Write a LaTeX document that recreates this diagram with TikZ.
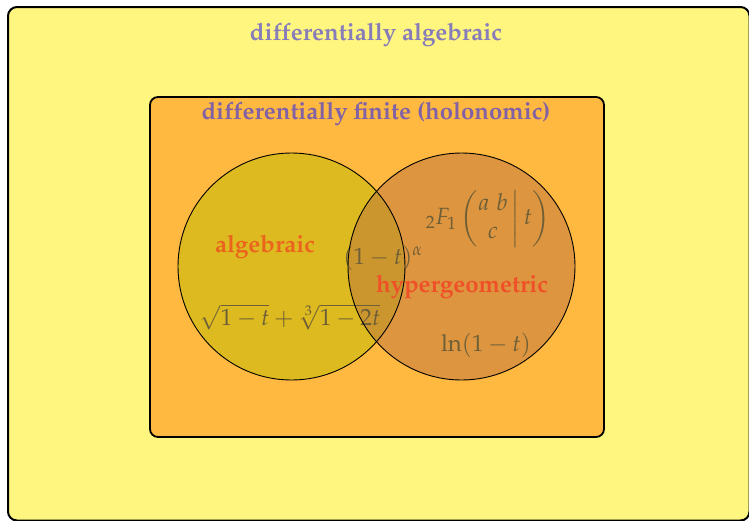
\documentclass[tikz,border=0pt]{standalone}
\usepackage[T1]{fontenc}
\usepackage{mathpazo}
\usepackage{amsmath}
\definecolor{outerfill}{RGB}{255,246,128}
\definecolor{innerfill}{RGB}{255,184,64}
\definecolor{leftc}{RGB}{189,188,0}
\definecolor{rightc}{RGB}{189,116,64}
\definecolor{titleA}{RGB}{135,125,185}
\definecolor{titleB}{RGB}{130,98,165}
\definecolor{algc}{RGB}{235,100,30}
\definecolor{hypc}{RGB}{240,80,40}
\definecolor{mathc}{RGB}{110,95,55}
\tikzset{
  box/.style={draw=black, line width=2pt, rounded corners=9pt},
  title/.style={font=\fontsize{24}{29}\selectfont\bfseries, inner sep=0pt},
  lab/.style={font=\fontsize{24}{29}\selectfont\bfseries, inner sep=0pt},
  formula/.style={font=\fontsize{23.5}{28}\selectfont, text=mathc, inner sep=0pt},
}
\begin{document}
\begin{tikzpicture}[x=1pt,y=-1pt]
\useasboundingbox (0,0) rectangle (749,520);
\draw[box, fill=outerfill] (8,7) rectangle (749.5,520.5);
\draw[box, fill=innerfill, line width=1.8pt, rounded corners=8pt] (150,97) rectangle (604,437);
\node[title, text=titleA] (tA) at (376,35) {differentially algebraic};
\node[title, text=titleB] (tB) at (376,114) {differentially finite (holonomic)};
\fill[leftc, opacity=0.5] (291.5,266.5) circle (113.5);
\fill[rightc, opacity=0.5] (461.5,266.5) circle (113.5);
\node[formula] (f1) at (383,258) {$(1-t)^{\alpha}$};
\node[formula] (f2) at (488,219) {${}_2F_1\left(\begin{matrix}a\;b\\ c\end{matrix}\,\middle|\,t\right)$};
\node[formula] (f3) at (290,317) {$\sqrt{1-t}+\sqrt[3]{1-2t}$};
\node[formula] (f4) at (486,345) {$\ln(1-t)$};
\node[lab, text=algc] (alg) at (265,247) {algebraic};
\node[lab, text=hypc] (hyp) at (462,287) {hypergeometric};
\draw[line width=0.9pt] (291.5,266.5) circle (113.5);
\draw[line width=0.9pt] (461.5,266.5) circle (113.5);
\end{tikzpicture}
\end{document}
